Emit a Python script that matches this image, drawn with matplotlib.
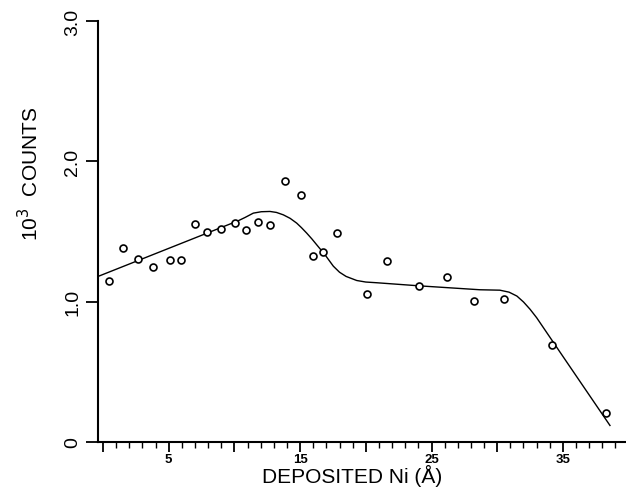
import matplotlib
matplotlib.use("Agg")
import matplotlib.pyplot as plt
from matplotlib.ticker import MultipleLocator, FixedLocator

plt.rcParams['font.family'] = ['Liberation Sans', 'DejaVu Sans']

# measured points (deposited Ni in A, 10^3 counts)
ni = [0.48, 1.54, 2.69, 3.78, 5.10, 5.94, 7.02, 7.89, 8.96, 10.07, 10.91, 11.77, 12.71,
      13.83, 15.05, 15.98, 16.74, 17.81, 20.09, 21.64, 24.05, 26.18, 28.26, 30.50,
      34.20, 38.28]
counts = [1.149, 1.383, 1.307, 1.246, 1.296, 1.298, 1.553, 1.499, 1.518, 1.558, 1.513,
          1.565, 1.548, 1.860, 1.757, 1.328, 1.355, 1.491, 1.055, 1.293, 1.109, 1.179,
          1.002, 1.021, 0.688, 0.204]

# fitted curve
fit_x = [-0.40, 10.3, 10.81, 11.44, 12.05, 12.71, 13.2, 13.72, 14.24, 14.74, 15.1, 15.5,
         15.9, 16.26, 16.89, 17.53, 18.0, 18.5, 19.31, 20.0, 20.83, 24.05, 28.69, 30.2,
         30.9, 31.5, 32.0, 32.5, 33.0, 35.03, 38.58]
fit_y = [1.179, 1.577, 1.600, 1.631, 1.641, 1.643, 1.636, 1.619, 1.594, 1.560, 1.528,
         1.489, 1.447, 1.406, 1.335, 1.253, 1.210, 1.180, 1.151, 1.140, 1.135, 1.113,
         1.085, 1.082, 1.068, 1.040, 0.998, 0.946, 0.886, 0.606, 0.118]

fig = plt.figure(figsize=(6.26, 4.89), dpi=100)
ax = fig.add_axes([0.1565, 0.094, 0.8435, 0.861])

ax.plot(fit_x, fit_y, color='black', lw=1.0)
ax.plot(ni, counts, 'o', ms=5, mfc='white', mec='black', mew=1.2, ls='none')

ax.set_xlim(-0.38, 39.8)
ax.set_ylim(0, 3.0)

ax.spines['top'].set_visible(False)
ax.spines['right'].set_visible(False)
ax.spines['left'].set_linewidth(1.5)
ax.spines['bottom'].set_linewidth(1.5)

ax.xaxis.set_major_locator(FixedLocator([0, 5, 10, 15, 20, 25, 30, 35]))
ax.set_xticklabels(['', '5', '', '15', '', '25', '', '35'], fontsize=9.5, fontweight='bold')
ax.xaxis.set_minor_locator(MultipleLocator(1))
ax.tick_params(axis='x', which='major', direction='out', length=7, width=1.3, pad=1)
ax.tick_params(axis='x', which='minor', direction='out', length=4, width=1.0)

ax.set_yticks([0, 1.0, 2.0, 3.0])
ax.set_yticklabels(['0', '1.0', '2.0', '3.0'], rotation=90, va='center', fontsize=14)
ax.tick_params(axis='y', which='major', direction='out', length=9, width=1.3, pad=3)

ax.set_xlabel('DEPOSITED Ni (\u00c5)', fontsize=15, va='center')
ax.xaxis.set_label_coords(0.481, -0.078)
ax.set_ylabel('10$^{3}$  COUNTS', fontsize=15, va='center')
ax.yaxis.set_label_coords(-0.13, 0.64)

fig.savefig('out.png', dpi=100)
